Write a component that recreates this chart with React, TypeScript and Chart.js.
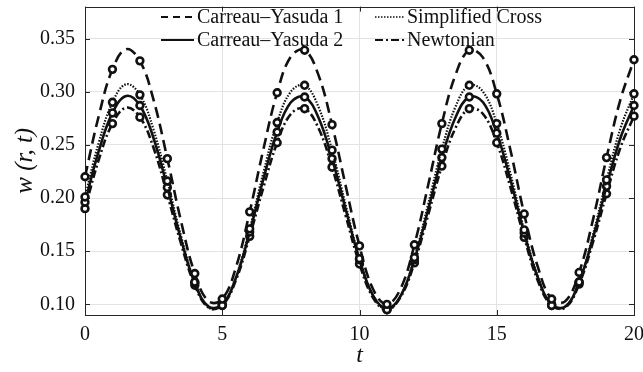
import React, { useEffect, useRef } from "react";
import { Chart, registerables } from "chart.js";

Chart.register(...registerables);

const tValues = [
  0, 0.5, 1, 1.5, 2, 2.5, 3, 3.5, 4, 4.5, 5, 5.5, 6, 6.5, 7, 7.5, 8, 8.5, 9, 9.5, 10,
  10.5, 11, 11.5, 12, 12.5, 13, 13.5, 14, 14.5, 15, 15.5, 16, 16.5, 17, 17.5, 18, 18.5, 19, 19.5, 20,
];

const carreauYasuda1 = [
  0.220, 0.277, 0.321, 0.340, 0.329, 0.292, 0.237, 0.178, 0.129, 0.103, 0.105, 0.135, 0.187, 0.246,
  0.299, 0.333, 0.339, 0.316, 0.269, 0.211, 0.155, 0.114, 0.100, 0.115, 0.156, 0.212, 0.270, 0.316,
  0.339, 0.332, 0.298, 0.245, 0.185, 0.135, 0.105, 0.103, 0.130, 0.179, 0.238, 0.292, 0.330,
];

const simplifiedCross = [
  0.201, 0.252, 0.290, 0.307, 0.297, 0.264, 0.216, 0.164, 0.121, 0.097, 0.099, 0.126, 0.171, 0.224,
  0.271, 0.300, 0.306, 0.286, 0.245, 0.193, 0.143, 0.108, 0.095, 0.108, 0.144, 0.194, 0.246, 0.286,
  0.306, 0.300, 0.270, 0.223, 0.170, 0.126, 0.099, 0.098, 0.121, 0.165, 0.217, 0.265, 0.298,
];

const carreauYasuda2 = [
  0.196, 0.244, 0.280, 0.296, 0.287, 0.256, 0.210, 0.161, 0.120, 0.098, 0.100, 0.125, 0.168, 0.218,
  0.262, 0.290, 0.295, 0.276, 0.237, 0.189, 0.142, 0.108, 0.096, 0.108, 0.142, 0.189, 0.238, 0.276,
  0.295, 0.290, 0.261, 0.217, 0.167, 0.125, 0.100, 0.098, 0.121, 0.162, 0.211, 0.256, 0.287,
];

const newtonian = [
  0.190, 0.236, 0.270, 0.285, 0.276, 0.247, 0.203, 0.157, 0.118, 0.097, 0.099, 0.123, 0.164, 0.210,
  0.252, 0.279, 0.284, 0.266, 0.229, 0.183, 0.138, 0.106, 0.095, 0.107, 0.139, 0.184, 0.230, 0.266,
  0.284, 0.279, 0.252, 0.210, 0.163, 0.122, 0.099, 0.097, 0.119, 0.158, 0.204, 0.247, 0.277,
];

const seriesLabels = ["Carreau–Yasuda 1", "Simplified Cross", "Carreau–Yasuda 2", "Newtonian"];
const xTicks = [0, 5, 10, 15, 20];
const yTicks = [0.1, 0.15, 0.2, 0.25, 0.3, 0.35];

const FONT = "'Liberation Serif', 'Times New Roman', serif";
const INK = "#111111";
const AXIS = "#262626";

const dashes: number[][] = [[11, 6], [1.5, 1.5], [], [8, 3, 2, 3]];
const widths = [2.6, 2.2, 2.6, 2.6];

const legendPlugin = {
  id: "twoColLegend",
  afterDraw(chart: any) {
    const ctx = chart.ctx;
    const ds = chart.data.datasets;
    const pos = [
      { x: 161, y: 17 },
      { x: 375, y: 17 },
      { x: 161, y: 40 },
      { x: 375, y: 40 },
    ];
    const lens = [33, 29, 33, 29];
    ctx.save();
    ds.forEach((d: any, i: number) => {
      const p = pos[i];
      ctx.beginPath();
      ctx.setLineDash(i === 0 ? [7, 5] : d.borderDash || []);
      ctx.lineWidth = i === 1 ? 1.6 : 2;
      ctx.strokeStyle = INK;
      ctx.moveTo(p.x, p.y);
      ctx.lineTo(p.x + lens[i], p.y);
      ctx.stroke();
      ctx.setLineDash([]);
      ctx.fillStyle = INK;
      ctx.font = `20px ${FONT}`;
      ctx.textBaseline = "middle";
      ctx.textAlign = "left";
      ctx.fillText(d.label, p.x + lens[i] + 3, p.y + 1);
    });
    ctx.restore();
  },
};

const innerTicksPlugin = {
  id: "innerTicks",
  beforeDatasetsDraw(chart: any) {
    const ctx = chart.ctx;
    const { left, right, top, bottom } = chart.chartArea;
    const xs = chart.scales.x;
    const ys = chart.scales.y;
    const L = 5;
    ctx.save();
    ctx.strokeStyle = AXIS;
    ctx.lineWidth = 1;
    ctx.beginPath();
    xTicks.forEach((v) => {
      const px = Math.round(xs.getPixelForValue(v)) + 0.5;
      ctx.moveTo(px, bottom);
      ctx.lineTo(px, bottom - L);
      ctx.moveTo(px, top);
      ctx.lineTo(px, top + L);
    });
    yTicks.forEach((v) => {
      const py = Math.round(ys.getPixelForValue(v)) + 0.5;
      ctx.moveTo(left, py);
      ctx.lineTo(left + L, py);
      ctx.moveTo(right, py);
      ctx.lineTo(right - L, py);
    });
    ctx.stroke();
    ctx.strokeRect(Math.round(left) + 0.5, Math.round(top) + 0.5, Math.round(right - left), Math.round(bottom - top));
    ctx.restore();
  },
};

export default function App() {
  const ref = useRef<HTMLCanvasElement | null>(null);

  useEffect(() => {
    document.body.style.margin = "0";
    const canvas = ref.current;
    if (!canvas) return;
    const allSeries = [carreauYasuda1, simplifiedCross, carreauYasuda2, newtonian];
    const datasets = allSeries.map((vals, i) => ({
      label: seriesLabels[i],
      data: tValues.map((t, j) => ({ x: t, y: vals[j] })),
      borderColor: INK,
      borderWidth: widths[i],
      borderDash: dashes[i],
      fill: false,
      tension: 0.4,
      clip: false,
      pointRadius: (c: any) => (Number.isInteger(c.raw?.x) ? 3.4 : 0),
      pointBackgroundColor: "#ffffff",
      pointBorderColor: INK,
      pointBorderWidth: 2.6,
      pointStyle: "circle",
    }));

    const chart = new Chart(canvas, {
      type: "line",
      data: { datasets },
      plugins: [legendPlugin, innerTicksPlugin],
      options: {
        animation: false,
        responsive: false,
        maintainAspectRatio: false,
        layout: { padding: { top: 6, right: 9, left: 0, bottom: 0 } },
        plugins: { legend: { display: false }, tooltip: { enabled: false } },
        scales: {
          x: {
            type: "linear",
            min: 0,
            max: 20,
            afterBuildTicks: (s: any) => {
              s.ticks = xTicks.map((v) => ({ value: v }));
            },
            afterFit: (s: any) => {
              s.height = 57;
              s.paddingLeft = 0;
              s.paddingRight = 0;
            },
            grid: { color: "#e3e3e3", lineWidth: 1, drawTicks: false },
            border: { display: false },
            ticks: {
              color: INK,
              font: { family: FONT, size: 20 },
              padding: 8,
              maxRotation: 0,
              callback: (v: any) => String(v),
            },
            title: {
              display: true,
              text: "t",
              color: INK,
              font: { family: FONT, size: 24, style: "italic" },
              padding: { top: 0, bottom: 2 },
            },
          },
          y: {
            type: "linear",
            min: 0.09,
            max: 0.38,
            afterBuildTicks: (s: any) => {
              s.ticks = yTicks.map((v) => ({ value: v }));
            },
            afterFit: (s: any) => {
              s.width = 85;
              s.paddingTop = 0;
              s.paddingBottom = 0;
            },
            grid: { color: "#e3e3e3", lineWidth: 1, drawTicks: false },
            border: { display: false },
            ticks: {
              color: INK,
              font: { family: FONT, size: 20 },
              padding: 10,
              callback: (v: any) => Number(v).toFixed(2),
            },
            title: {
              display: true,
              text: "w (r, t)",
              color: INK,
              font: { family: FONT, size: 25, style: "italic" },
              padding: { top: 10, bottom: 0 },
            },
          },
        },
      },
    } as any);
    return () => chart.destroy();
  }, []);

  return (
    <div style={{ width: 643, height: 372, background: "#ffffff" }}>
      <canvas ref={ref} width={643} height={372} style={{ display: "block" }} />
    </div>
  );
}
